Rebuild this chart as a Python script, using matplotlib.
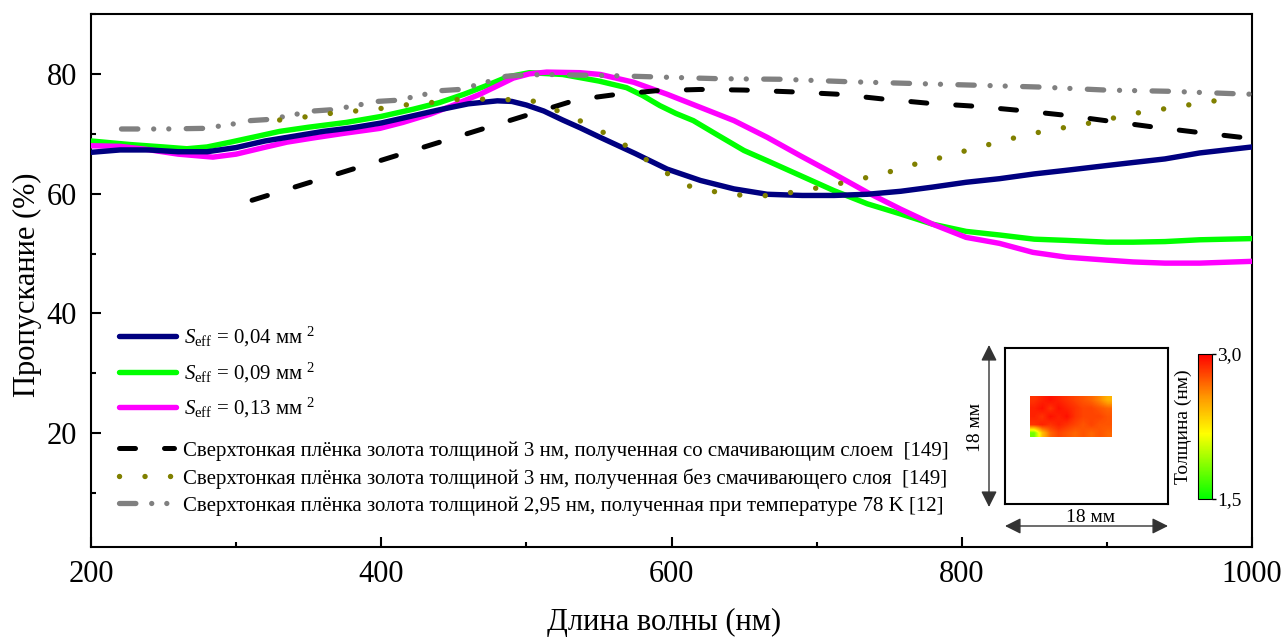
import numpy as np
import matplotlib
matplotlib.use("Agg")
import matplotlib.pyplot as plt
from matplotlib.colors import LinearSegmentedColormap
from matplotlib.patches import FancyArrowPatch
from matplotlib.ticker import MultipleLocator

plt.rcParams['font.family'] = ['Liberation Serif', 'DejaVu Serif']
plt.rcParams['mathtext.fontset'] = 'custom'
plt.rcParams['mathtext.rm'] = 'Liberation Serif'
plt.rcParams['mathtext.it'] = 'Liberation Serif:italic'
plt.rcParams['mathtext.bf'] = 'Liberation Serif:bold'

# ---------------- data ----------------
blue_x = [200, 220, 240, 260, 280, 300, 320, 340, 360, 380, 400, 420, 440, 460, 480, 490, 500,
          512, 525, 537, 550, 575, 597, 620, 643, 666, 690, 712, 735, 758, 780, 803, 826, 850,
          872, 900, 918, 940, 964, 1000]
blue_y = [66.9, 67.3, 67.3, 67.0, 67.0, 67.7, 68.8, 69.6, 70.4, 71.0, 71.8, 72.9, 74.0, 75.0, 75.5,
          75.4, 74.8, 73.8, 72.3, 71.0, 69.5, 66.7, 64.1, 62.2, 60.8, 59.9, 59.7, 59.7, 59.9, 60.4,
          61.1, 61.9, 62.5, 63.3, 63.9, 64.7, 65.2, 65.8, 66.8, 67.8]

green_x = [200, 227, 250, 266, 280, 296, 315, 330, 350, 376, 400, 422, 440, 457, 472, 487, 502,
           525, 550, 569, 580, 592, 603, 615, 631, 650, 666, 689, 712, 735, 758, 780, 803, 826,
           850, 872, 900, 918, 940, 964, 1000]
green_y = [68.8, 68.2, 67.8, 67.5, 67.8, 68.6, 69.6, 70.4, 71.1, 71.9, 72.9, 74.1, 75.2, 76.6, 78.0,
           79.5, 80.2, 79.9, 78.8, 77.7, 76.4, 74.7, 73.4, 72.2, 69.9, 67.2, 65.5, 63.0, 60.5, 58.3,
           56.6, 54.9, 53.7, 53.1, 52.4, 52.2, 51.9, 51.9, 52.0, 52.3, 52.5]

magenta_x = [200, 220, 238, 260, 284, 300, 319, 335, 353, 375, 399, 415, 434, 450, 468, 480, 491,
             502, 514, 537, 551, 574, 597, 620, 643, 666, 689, 712, 735, 758, 780, 803, 826, 849,
             872, 900, 918, 940, 964, 1000]
magenta_y = [68.0, 67.9, 67.4, 66.6, 66.1, 66.6, 67.7, 68.6, 69.3, 70.1, 70.9, 71.9, 73.3, 74.8,
             76.6, 78.0, 79.3, 80.0, 80.3, 80.2, 79.9, 78.6, 76.6, 74.4, 72.2, 69.4, 66.3, 63.3,
             60.2, 57.4, 54.9, 52.7, 51.7, 50.2, 49.4, 48.9, 48.6, 48.4, 48.4, 48.7]

wet_x = [311, 535, 560, 590, 620, 650, 683, 715, 746, 777, 809, 840, 871, 902, 933, 964, 1000]
wet_y = [58.9, 75.7, 76.5, 77.2, 77.4, 77.3, 77.0, 76.6, 75.8, 75.1, 74.6, 73.9, 73.1, 72.1,
         71.1, 70.2, 69.2]

nowet_x = [330, 347, 365, 382, 399, 416, 434, 451, 468, 485, 502, 519, 535, 551, 565, 580, 595,
           610, 628, 645, 662, 680, 697, 714, 731, 747, 764, 781, 797, 814, 831, 848, 865, 882,
           899, 916, 933, 950, 967, 984]
nowet_y = [72.3, 72.8, 73.4, 73.8, 74.2, 74.8, 75.2, 75.7, 75.8, 75.7, 75.7, 74.1, 72.4, 70.5,
           68.6, 66.1, 63.7, 61.4, 60.4, 59.8, 59.6, 60.1, 60.8, 61.6, 62.5, 63.4, 64.7, 65.7,
           66.8, 67.9, 69.0, 70.0, 70.8, 71.5, 72.3, 73.3, 73.9, 74.6, 75.2, 75.9]

cold_x = [221, 250, 277, 295, 310, 323, 340, 353, 365, 380, 397, 411, 425, 441, 454, 468, 486,
          498, 515, 535, 560, 588, 632, 676, 721, 766, 811, 854, 899, 942, 987, 1000]
cold_y = [70.8, 70.8, 70.9, 71.5, 72.2, 72.4, 73.2, 73.8, 74.0, 74.6, 75.4, 75.6, 76.3, 77.2,
          77.4, 78.3, 79.6, 79.8, 79.9, 79.8, 79.7, 79.5, 79.2, 79.1, 78.7, 78.4, 78.1, 77.8,
          77.3, 77.1, 76.7, 76.6]

labels_s = [r"$S_{\mathrm{eff}}$ = 0,04 мм $^{2}$",
            r"$S_{\mathrm{eff}}$ = 0,09 мм $^{2}$",
            r"$S_{\mathrm{eff}}$ = 0,13 мм $^{2}$"]
labels_ref = ["Сверхтонкая плёнка золота толщиной 3 нм, полученная со смачивающим слоем  [149]",
              "Сверхтонкая плёнка золота толщиной 3 нм, полученная без смачивающего слоя  [149]",
              "Сверхтонкая плёнка золота толщиной 2,95 нм, полученная при температуре 78 K [12]"]

x_ticks = [200, 400, 600, 800, 1000]
y_ticks = [20, 40, 60, 80]

# inset thickness map (nm), rows top -> bottom
thickness = np.array([
    [2.85, 2.90, 2.95, 2.90, 2.85, 2.80, 2.75, 2.70, 2.60, 2.45],
    [2.90, 2.95, 2.85, 2.95, 2.90, 2.85, 2.80, 2.80, 2.75, 2.70],
    [2.90, 2.85, 2.95, 2.90, 2.95, 2.85, 2.80, 2.80, 2.80, 2.75],
    [2.85, 2.90, 2.85, 2.90, 2.85, 2.80, 2.75, 2.80, 2.75, 2.75],
    [1.80, 2.40, 2.70, 2.80, 2.75, 2.70, 2.75, 2.70, 2.75, 2.70],
])

# ---------------- figure ----------------
W, H = 1284, 641
fig = plt.figure(figsize=(W / 100, H / 100), dpi=100)

def fx(px):
    return px / W

def fy(py):
    return 1 - py / H

ax = fig.add_axes([fx(91), fy(547), (1252 - 91) / W, (547 - 14) / H])

lw_solid = 3.9
ax.plot(green_x, green_y, color='#00ff00', lw=lw_solid, solid_capstyle='round', zorder=3)
ax.plot(magenta_x, magenta_y, color='#ff00ff', lw=lw_solid, solid_capstyle='round', zorder=4)
ax.plot(blue_x, blue_y, color='#000080', lw=lw_solid, solid_capstyle='round', zorder=5)
h_s = [ax.lines[2], ax.lines[0], ax.lines[1]]

l_wet, = ax.plot(wet_x, wet_y, color='black', lw=3.6, dashes=(3.2, 5.8),
                 dash_capstyle='round', zorder=6)
l_nowet, = ax.plot(nowet_x, nowet_y, color='#808000', lw=3.9, dashes=(0.01, 4.7),
                   dash_capstyle='round', zorder=7)
l_cold, = ax.plot(cold_x, cold_y, color='#808080', lw=3.8,
                  dashes=(3.1, 3.0, 0.01, 2.85, 0.01, 3.3),
                  dash_capstyle='round', zorder=6)

ax.set_xlim(200, 1000)
ax.set_ylim(1, 90)
ax.set_xticks(x_ticks)
ax.set_yticks(y_ticks)
ax.xaxis.set_minor_locator(MultipleLocator(100))
ax.yaxis.set_minor_locator(MultipleLocator(10))
ax.tick_params(which='major', direction='in', length=7, width=1.5, labelsize=22)
ax.tick_params(axis='y', which='major', pad=10)
ax.tick_params(axis='x', which='major', pad=9)
ax.tick_params(which='minor', direction='in', length=3.5, width=1.5)
for s in ax.spines.values():
    s.set_linewidth(1.5)

ax.set_xlabel("Длина волны (нм)", fontsize=22)
ax.set_ylabel("Пропускание (%)", fontsize=22)
ax.xaxis.set_label_coords((664 - 91) / 1161, -0.115)
ax.yaxis.set_label_coords(-(91 - 42) / 1161, (547 - 285) / 533)

# legends
leg1 = ax.legend(h_s, labels_s, loc='upper left',
                 bbox_to_anchor=(fx(119), fy(325)), bbox_transform=fig.transFigure,
                 frameon=False, fontsize=15, borderpad=0, borderaxespad=0,
                 handlelength=2.75, handletextpad=0.35, labelspacing=0.55)
ax.add_artist(leg1)
leg2 = ax.legend([l_wet, l_nowet, l_cold], labels_ref, loc='upper left',
                 bbox_to_anchor=(fx(119), fy(441)), bbox_transform=fig.transFigure,
                 frameon=False, fontsize=15, borderpad=0, borderaxespad=0,
                 handlelength=2.65, handletextpad=0.4, labelspacing=0.36)

# ---------------- inset ----------------
cmap = LinearSegmentedColormap.from_list(
    'thk', [(0.0, '#00ff00'), (0.45, '#ffff00'), (0.7, '#ff9900'), (1.0, '#ff0000')])

iax = fig.add_axes([fx(1005), fy(504), (1168 - 1005) / W, (504 - 348) / H])
iax.set_xlim(0, 18)
iax.set_ylim(0, 18)
im = iax.imshow(thickness, cmap=cmap, vmin=1.5, vmax=3.0, interpolation='bilinear',
                extent=(2.76, 11.8, 7.73, 12.35), aspect='auto')
iax.set_xticks([])
iax.set_yticks([])
for s in iax.spines.values():
    s.set_linewidth(1.5)

cax = fig.add_axes([fx(1198), fy(499), (1212 - 1198) / W, (499 - 354) / H])
cb = fig.colorbar(im, cax=cax, ticks=[1.5, 3.0])
cb.ax.set_yticklabels(["1,5", "3,0"])
cb.ax.tick_params(labelsize=14, length=3, width=1, pad=1)
cb.outline.set_linewidth(0.8)
cb.ax.yaxis.set_label_position('left')
cb.set_label("Толщина (нм)", fontsize=14, labelpad=4)

arrow_kw = dict(arrowstyle='<|-|>', mutation_scale=24, color='#333333', lw=1.0,
                transform=fig.transFigure, shrinkA=0, shrinkB=0)
fig.add_artist(FancyArrowPatch((fx(989), fy(345)), (fx(989), fy(507)), **arrow_kw))
fig.add_artist(FancyArrowPatch((fx(1005), fy(526)), (fx(1168), fy(526)), **arrow_kw))
fig.text(fx(976), fy(427), "18 мм", rotation=90, ha='center', va='center', fontsize=14)
fig.text(fx(1090), fy(517), "18 мм", ha='center', va='center', fontsize=14)

fig.savefig("out.png", dpi=100)
